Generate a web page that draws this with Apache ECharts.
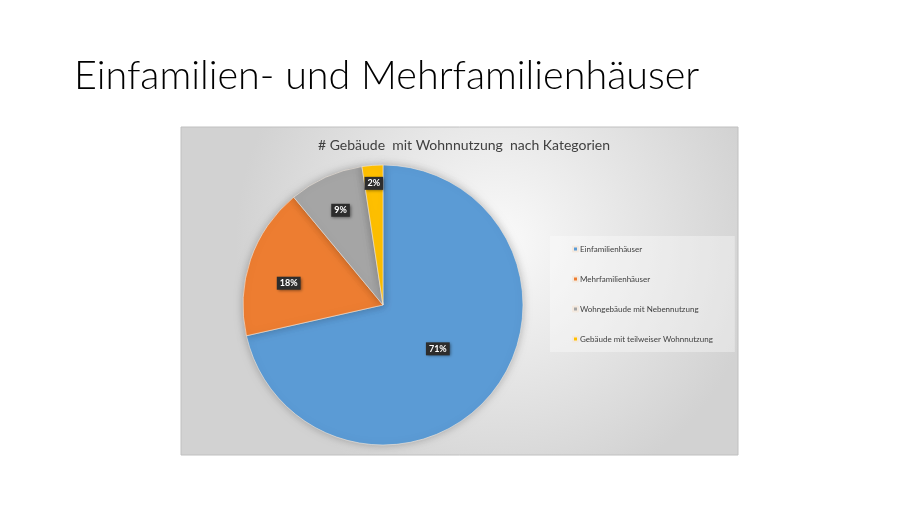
<!DOCTYPE html>
<html>
<head>
<meta charset="utf-8">
<title>Gebäude mit Wohnnutzung</title>
<script src="https://cdn.jsdelivr.net/npm/echarts@6/dist/echarts.min.js"></script>
<style>
  html, body { margin: 0; padding: 0; background: #fff; }
  #main { width: 920px; height: 516px; }
</style>
</head>
<body>
<div id="main"></div>
<script>
var categories = ['Einfamilienhäuser', 'Mehrfamilienhäuser', 'Wohngebäude mit Nebennutzung', 'Gebäude mit teilweiser Wohnnutzung'];
// shares (labels show the rounded values 71/18/9/2)
var shares = [71.4, 17.5, 8.6, 2.4];
var colors = ['#5b9bd5', '#ed7d31', '#a5a5a5', '#ffc000'];

// label placement, Excel "best fit" look: [fraction of radius, angle shift in degrees]
var labelPlace = [[0.48, 0], [0.67, -6], [0.72, 0], [0.85, 0]];
var pieR = 140;

var total = shares.reduce(function (a, b) { return a + b; }, 0);
var midAngles = [];
var acc = 0;
for (var i = 0; i < shares.length; i++) {
  midAngles.push((acc + shares[i] / 2) / total * Math.PI * 2);
  acc += shares[i];
}

var myChart = echarts.init(document.getElementById('main'));

var option = {
  backgroundColor: '#ffffff',
  textStyle: { fontFamily: 'Lato' },
  title: [
    {
      text: 'Einfamilien- und Mehrfamilienhäuser',
      left: 69,
      top: 51,
      textStyle: { fontFamily: 'Lato', fontWeight: 300, fontSize: 39.5, color: '#000' }
    },
    {
      text: '# Gebäude  mit Wohnnutzung  nach Kategorien',
      left: 459,
      textAlign: 'center',
      top: 133,
      textStyle: { fontFamily: 'Lato', fontWeight: 'normal', fontSize: 14, color: '#404040' }
    }
  ],
  graphic: [
    {
      type: 'rect',
      z: -10,
      shape: { x: 181, y: 127, width: 557, height: 328 },
      style: {
        fill: new echarts.graphic.RadialGradient(0.57, 0.35, 0.8, [
          { offset: 0, color: '#fafafa' },
          { offset: 1, color: '#d2d2d2' }
        ]),
        stroke: '#c0c0c0',
        lineWidth: 1
      }
    }
  ],
  legend: {
    orient: 'vertical',
    left: 550,
    top: 236,
    padding: [9, 22, 9, 22],
    backgroundColor: 'rgba(255,255,255,0.35)',
    itemGap: 22,
    itemWidth: 5,
    itemHeight: 5,
    icon: 'rect',
    textStyle: { fontSize: 8, color: '#404040', padding: [0, 0, 0, -3] },
    data: categories
  },
  series: [
    {
      type: 'pie',
      center: [383, 305],
      radius: [0, pieR],
      startAngle: 90,
      clockwise: true,
      silent: true,
      percentPrecision: 0,
      itemStyle: {
        borderColor: '#f3e9df',
        borderWidth: 0.6,
        shadowBlur: 8,
        shadowColor: 'rgba(0,0,0,0.25)'
      },
      label: {
        show: true,
        position: 'inside',
        formatter: '{d}%',
        color: '#fff',
        fontWeight: 'bold',
        fontSize: 9,
        backgroundColor: '#2d2d2d',
        padding: [2, 3, 2, 3],
        shadowColor: 'rgba(0,0,0,0.5)',
        shadowBlur: 3,
        shadowOffsetX: 1,
        shadowOffsetY: 1
      },
      labelLine: { show: false },
      labelLayout: function (params) {
        var k = params.dataIndex;
        var a = midAngles[k];
        var b = a + labelPlace[k][1] * Math.PI / 180;
        var f = labelPlace[k][0];
        var x0 = 0.5 * pieR * Math.sin(a), y0 = -0.5 * pieR * Math.cos(a);
        var x1 = f * pieR * Math.sin(b), y1 = -f * pieR * Math.cos(b);
        return { dx: x1 - x0, dy: y1 - y0 };
      },
      data: categories.map(function (c, i) {
        return { name: c, value: shares[i], itemStyle: { color: colors[i] } };
      })
    }
  ]
};

myChart.setOption(option);
</script>
</body>
</html>
